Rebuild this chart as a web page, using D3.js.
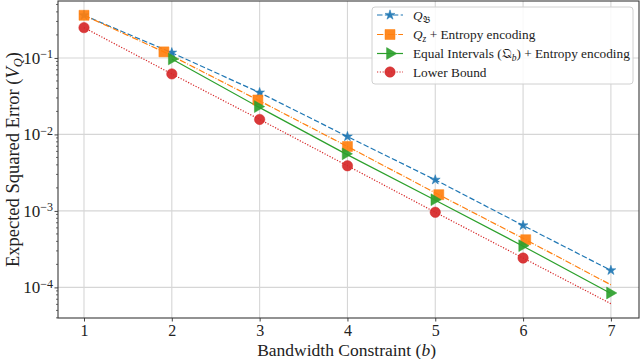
<!DOCTYPE html>
<html>
<head>
<meta charset="utf-8">
<script src="https://cdn.jsdelivr.net/npm/d3@7"></script>
<style>
  body { margin: 0; background: #fff; }
  svg text { font-family: "Liberation Serif", "DejaVu Serif", serif; fill: #222; }
</style>
</head>
<body>
<svg id="chart" width="640" height="359"></svg>
<script>
// values (x is b, y is the expected squared error)
const bitsTicks = [1, 2, 3, 4, 5, 6, 7];
const decadeTicks = [1e-1, 1e-2, 1e-3, 1e-4];

const blueX = [1, 2, 3, 4, 5, 6, 7];
const blueY = [0.361, 0.117, 0.0352, 0.00937, 0.00255, 0.000646, 0.000167];

// last point of orange and red has no marker in the picture
const orangeX = [1, 1.91, 2.98, 4.0, 5.04, 6.03, 7];
const orangeY = [0.361, 0.120, 0.0282, 0.00695, 0.00163, 0.000420, 0.000108];

const greenX = [2, 2.98, 3.98, 4.99, 5.99, 6.99];
const greenY = [0.097, 0.0231, 0.00557, 0.00140, 0.000351, 0.0000845];

const redX = [1, 2, 3, 4, 5, 6, 7];
const redY = [0.249, 0.0618, 0.0157, 0.00389, 0.00096, 0.000242, 0.0000612];

const series = [
    {name: "blue", x: blueX, y: blueY, color: "#1f77b4", dash: "5.5,2.4", symbol: d3.symbolStar, size: 30, rot: 0, marks: 7},
    {name: "orange", x: orangeX, y: orangeY, color: "#ff7f0e", dash: "6.4,1.6,1,1.6", symbol: d3.symbolSquare, size: 100, rot: 0, marks: 6},
    {name: "green", x: greenX, y: greenY, color: "#2ca02c", dash: null, symbol: d3.symbolTriangle, size: 60, rot: 90, marks: 6},
    {name: "red", x: redX, y: redY, color: "#d62728", dash: "1.2,1.6", symbol: d3.symbolCircle, size: 85, rot: 0, marks: 6}
];

const margin = {top: 1, right: 1, bottom: 41, left: 58};
const width = 640 - margin.left - margin.right;
const height = 359 - margin.top - margin.bottom;

const x = d3.scaleLinear().domain([0.704, 7.32]).range([0, width]);
const y = d3.scaleLog().domain([3.98e-5, 0.555]).range([height, 0]);

const svg = d3.select("#chart");
const g = svg.append("g").attr("transform", "translate(" + margin.left + "," + margin.top + ")");

// grid
g.selectAll(".gx").data(bitsTicks).enter().append("line")
    .attr("x1", d => x(d)).attr("x2", d => x(d))
    .attr("y1", 0).attr("y2", height)
    .attr("stroke", "#d6d6d6").attr("stroke-width", 1.1);
g.selectAll(".gy").data(decadeTicks).enter().append("line")
    .attr("x1", 0).attr("x2", width)
    .attr("y1", d => y(d)).attr("y2", d => y(d))
    .attr("stroke", "#d6d6d6").attr("stroke-width", 1.1);

// axes
const xAxis = d3.axisBottom(x).tickValues(bitsTicks).tickSize(3.5).tickPadding(3).tickFormat(d3.format("d"));
const gx = g.append("g").attr("transform", "translate(0," + height + ")").call(xAxis);
gx.select(".domain").remove();
gx.selectAll("text").attr("font-size", 16).attr("font-family", "Liberation Serif, serif").attr("fill", "#222");
gx.selectAll("line").attr("stroke", "#444");

const yAxis = d3.axisLeft(y).tickValues(decadeTicks).tickSize(3.5).tickPadding(4).tickFormat("");
const gy = g.append("g").call(yAxis);
gy.select(".domain").remove();
gy.selectAll("line").attr("stroke", "#444");
gy.selectAll(".tick").each(function(d) {
    const t = d3.select(this).append("text")
        .attr("x", -5).attr("dy", "0.32em")
        .attr("text-anchor", "end")
        .attr("font-size", 17);
    t.append("tspan").text("10");
    t.append("tspan").attr("dy", "-0.45em").attr("font-size", 12).text("\u2212" + Math.round(-Math.log10(d)));
});

// minor log ticks
const minor = [];
for (let e = -5; e <= 0; e++) {
    for (let m = 2; m <= 9; m++) {
        const v = m * Math.pow(10, e);
        if (v > y.domain()[0] && v < y.domain()[1]) minor.push(v);
    }
}
g.selectAll(".minor").data(minor).enter().append("line")
    .attr("x1", -2).attr("x2", 0)
    .attr("y1", d => y(d)).attr("y2", d => y(d))
    .attr("stroke", "#444").attr("stroke-width", 0.8);

// frame
g.append("rect").attr("width", width).attr("height", height)
    .attr("fill", "none").attr("stroke", "#3a3a3a").attr("stroke-width", 1.1);

// lines
const line = d3.line().x(d => x(d[0])).y(d => y(d[1]));
series.forEach(s => {
    const pts = s.x.map((v, i) => [v, s.y[i]]);
    g.append("path").datum(pts)
        .attr("d", line)
        .attr("fill", "none")
        .attr("stroke", s.color)
        .attr("stroke-width", 1.2)
        .attr("stroke-dasharray", s.dash);
});

// markers
series.forEach(s => {
    const pts = s.x.slice(0, s.marks).map((v, i) => [v, s.y[i]]);
    g.selectAll(".m-" + s.name).data(pts).enter().append("path")
        .attr("d", d3.symbol().type(s.symbol).size(s.size))
        .attr("transform", d => "translate(" + x(d[0]) + "," + y(d[1]) + ") rotate(" + s.rot + ")")
        .attr("fill", s.color).attr("fill-opacity", 0.92)
        .attr("stroke", s.color).attr("stroke-opacity", 0.5).attr("stroke-width", 1);
});

// legend
const leg = svg.append("g").attr("transform", "translate(372,7)");
leg.append("rect").attr("width", 261).attr("height", 77).attr("rx", 3)
    .attr("fill", "#fff").attr("fill-opacity", 0.85)
    .attr("stroke", "#d0d0d0").attr("stroke-width", 1);
const legRows = [8, 27.5, 46.5, 65];
series.forEach((s, i) => {
    const r = leg.append("g").attr("transform", "translate(0," + legRows[i] + ")");
    r.append("line").attr("x1", 5).attr("x2", 31)
        .attr("stroke", s.color).attr("stroke-width", 1.2).attr("stroke-dasharray", s.dash);
    r.append("path").attr("d", d3.symbol().type(s.symbol).size(s.size))
        .attr("transform", "translate(18,0) rotate(" + s.rot + ")")
        .attr("fill", s.color).attr("fill-opacity", 0.92)
        .attr("stroke", s.color).attr("stroke-opacity", 0.5);
});
function legText(row) {
    return leg.append("text").attr("x", 41).attr("y", legRows[row]).attr("dy", "0.35em").attr("font-size", 13.3);
}
let t0 = legText(0);
t0.append("tspan").attr("font-style", "italic").text("Q");
t0.append("tspan").attr("dy", "3").attr("font-size", 9.5).text("\uD835\uDD05");
let t1 = legText(1);
t1.append("tspan").attr("font-style", "italic").text("Q");
t1.append("tspan").attr("dy", "3").attr("font-size", 9.5).attr("font-style", "italic").text("z");
t1.append("tspan").attr("dy", "-3").text(" + Entropy encoding");
let t2 = legText(2);
t2.append("tspan").text("Equal Intervals (\uD835\uDD14");
t2.append("tspan").attr("dy", "3").attr("font-size", 9.5).attr("font-style", "italic").text("b");
t2.append("tspan").attr("dy", "-3").text(") + Entropy encoding");
legText(3).text("Lower Bound");

// axis labels
const xl = svg.append("text").attr("x", margin.left + x(3.99)).attr("y", 355.5)
    .attr("text-anchor", "middle").attr("font-size", 17.5);
xl.append("tspan").text("Bandwidth Constraint (");
xl.append("tspan").attr("font-style", "italic").text("b");
xl.append("tspan").text(")");

const yl = svg.append("text").attr("transform", "translate(19," + (margin.top + height / 2) + ") rotate(-90)")
    .attr("text-anchor", "middle").attr("font-size", 18.5);
yl.append("tspan").text("Expected Squared Error (");
yl.append("tspan").attr("font-style", "italic").text("V");
yl.append("tspan").attr("dy", "3").attr("font-size", 12.5).attr("font-style", "italic").text("Q");
yl.append("tspan").attr("dy", "-3").text(")");
</script>
</body>
</html>
